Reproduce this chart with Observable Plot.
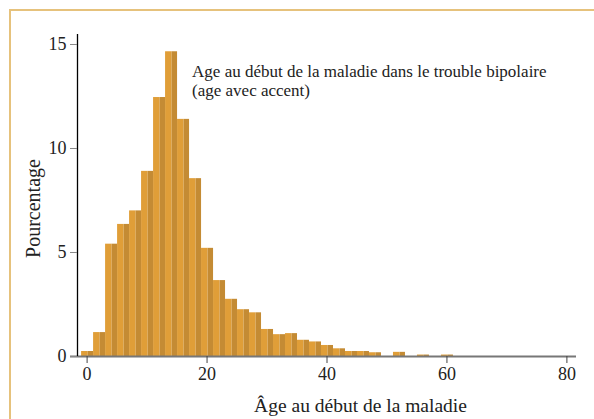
<!DOCTYPE html>
<html><head><meta charset="utf-8">
<script src="https://cdn.jsdelivr.net/npm/d3@7"></script>
<script src="https://cdn.jsdelivr.net/npm/@observablehq/plot@0.6"></script>
<style>
body{margin:0;background:#fff;}
#wrap{position:relative;width:594px;height:419px;overflow:hidden;background:#fff;}
#border{position:absolute;left:9px;top:9px;width:700px;height:500px;border-left:2px solid #E6C27C;border-top:2px solid #E6C27C;}
#chart{position:absolute;left:0;top:0;}
</style></head><body>
<div id="wrap"><div id="border"></div><div id="chart"></div></div>
<script>
const ages = [0,2,4,6,8,10,12,14,16,18,20,22,24,26,28,30,32,34,36,38,40,42,44,46,48,52,56,60];
const percents = [0.24,1.15,5.4,6.35,7.0,8.9,12.45,14.65,11.4,8.55,5.2,3.65,2.75,2.25,2.1,1.3,1.05,1.1,0.78,0.7,0.53,0.37,0.24,0.24,0.18,0.2,0.07,0.07];
const binWidth = 2;
const xTicks = [0,20,40,60,80];
const yTicks = [0,5,10,15];
const xTitle = "Âge au début de la maladie";
const yTitle = "Pourcentage";
const noteLines = ["Age au début de la maladie dans le trouble bipolaire", "(age avec accent)"];

const data = ages.map((a,i) => ({age:a, pct:percents[i]}));
const light = "#E09E38", dark = "#C48B34";
const font = "'Liberation Serif', 'DejaVu Serif', serif";

const chart = Plot.plot({
  width: 594, height: 419,
  marginLeft: 77, marginRight: 18, marginTop: 34, marginBottom: 63,
  style: {fontFamily: font, fontSize: "18px", color: "#222", background: "transparent"},
  x: {domain: [-1.6, 81.6], ticks: xTicks, tickSize: 0, label: null},
  y: {domain: [0, 15.48], ticks: yTicks, label: null},
  marks: [
    Plot.rectY(data, {x1: d => d.age - binWidth/2, x2: d => d.age + binWidth/2, y1: 0, y2: "pct", fill: light, dx: 0.5, insetRight: 5.4}),
    Plot.rectY(data, {x1: d => d.age - binWidth/2, x2: d => d.age + binWidth/2, y1: 0, y2: "pct", fill: dark, dx: 0.5, insetLeft: 6.6}),
    Plot.ruleY([0], {stroke: "#777", strokeWidth: 2, insetLeft: -7}),
    Plot.ruleX([-1.6], {stroke: "#000", strokeWidth: 1.3}),
    Plot.axisX({ticks: xTicks, tickSize: 7, tickPadding: 4, stroke: "#444", fontSize: 18, label: null}),
    Plot.axisY({ticks: yTicks, tickSize: 7, tickPadding: 4, stroke: "#888", fontSize: 18, label: null}),
    Plot.text([yTitle], {frameAnchor: "left", textAnchor: "middle", rotate: -90, dx: -44, dy: 13, fontSize: 20, fill: "#222"}),
    Plot.text([xTitle], {frameAnchor: "bottom", lineAnchor: "top", dx: 33.5, dy: 42, fontSize: 19.5, fill: "#222"}),
    Plot.text([noteLines.join("\n")], {x: 17.5, y: 14.1, textAnchor: "start", lineAnchor: "top", lineHeight: 1.13, fontSize: 17, fill: "#222"})
  ]
});
document.getElementById("chart").appendChild(chart);
</script>
</body></html>
